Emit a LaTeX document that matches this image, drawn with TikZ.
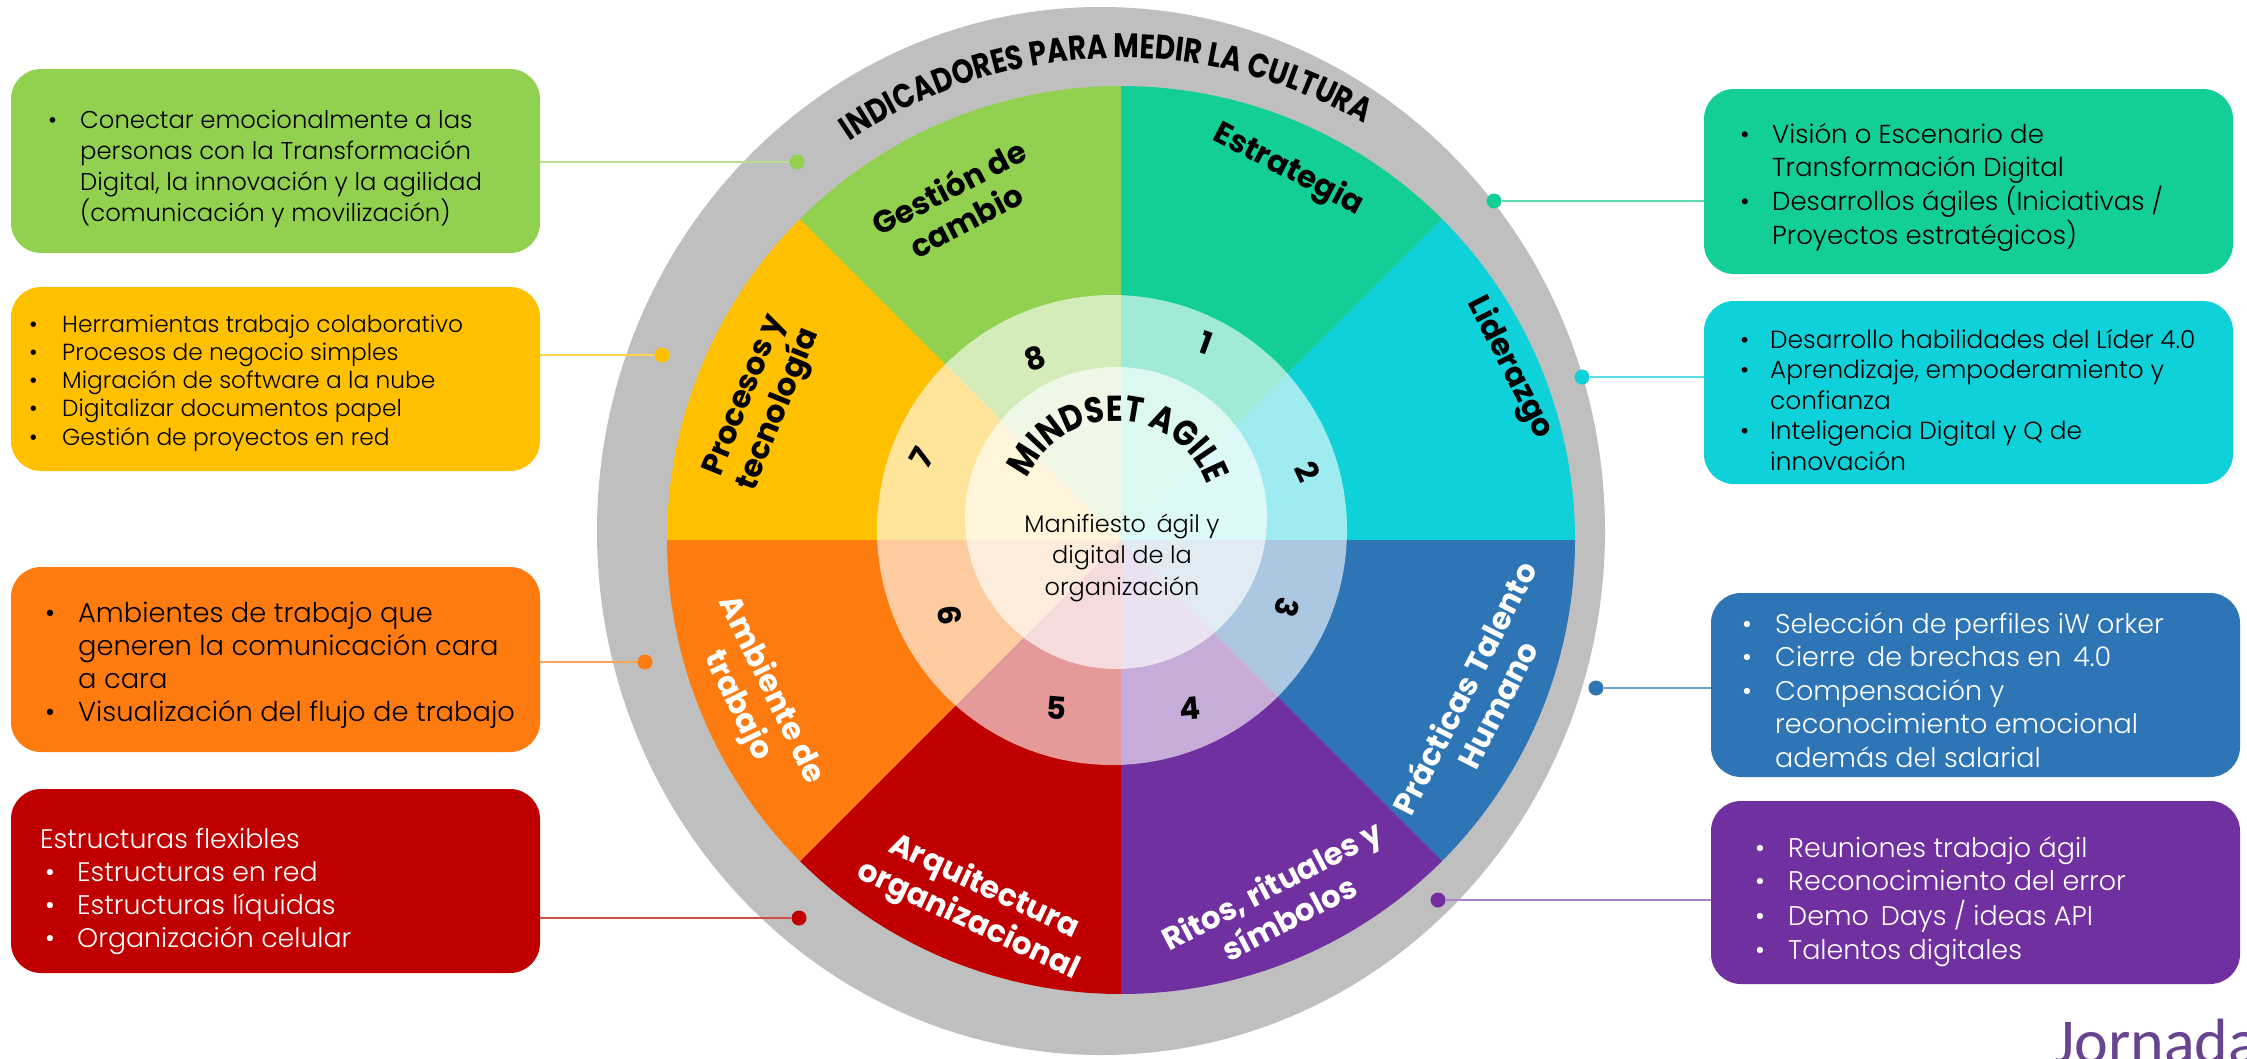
\documentclass[tikz,border=0pt]{standalone}
\usepackage{fontspec}
\setmainfont{Poppins}
\newfontfamily\condf[FakeStretch=0.82]{Poppins}
\newfontfamily\mindf[FakeStretch=0.86]{Poppins}
\IfFontExistsTF{Poppins Light}{\newfontfamily\boxf{Poppins Light}}{\newfontfamily\boxf{Poppins}}
\newfontfamily\jfont{Carlito}
\usetikzlibrary{decorations.text}
\definecolor{cGray}{HTML}{BFBFBF}
\definecolor{cGreen}{HTML}{92D050}
\definecolor{cTeal}{RGB}{19,207,151}
\definecolor{cCyan}{RGB}{14,209,217}
\definecolor{cBlue}{HTML}{2E75B6}
\definecolor{cPurple}{HTML}{7030A0}
\definecolor{cRed}{HTML}{C00000}
\definecolor{cOrange}{RGB}{254,123,16}
\definecolor{cYellow}{HTML}{FFC000}
\definecolor{cJorn}{RGB}{104,68,144}
\tikzset{
  infobox/.style={draw=none, rounded corners=30pt, inner sep=0pt, minimum width=529pt},
  boxtext/.style={inner sep=0pt, anchor=base west, font=\boxf},
  seglabel/.style={inner sep=0pt, align=center, font=\fontsize{31}{37}\selectfont\bfseries},
  numlabel/.style={inner sep=0pt, font=\fontsize{31}{31}\selectfont\bfseries},
  pin/.style={circle, inner sep=0pt, minimum size=15pt},
  link/.style={line width=2pt},
}
\begin{document}
\begin{tikzpicture}[x=1pt,y=1pt]
\useasboundingbox (0,0) rectangle (2247,-1058);
\clip (0,0) rectangle (2247,-1058);
\fill[white] (0,0) rectangle (2247,-1058);
% outer gray ring
\fill[cGray] (1101,-531) ellipse[x radius=504, y radius=524];
\coordinate (C) at (1121,-540);
\coordinate (I) at (1116,-518);
\foreach \a/\b/\c in {45/90/cTeal, 0/45/cCyan, -45/0/cBlue, -90/-45/cPurple, -135/-90/cRed, 180/225/cOrange, 135/180/cYellow, 90/135/cGreen}
  \fill[\c] (C) -- ++(\a:454) arc[start angle=\a, end angle=\b, radius=454] -- cycle;
\fill[white, opacity=0.6] (1112,-530) circle[radius=235];
\fill[white, opacity=0.65] (I) circle[radius=151];
% arc texts
\path[decorate, decoration={text along path, text align=center,
  text={|\condf\bfseries\fontsize{34}{34}\selectfont|INDICADORES{\ }PARA MEDIR LA CULTURA}}]
  ([shift={(150:482)}]C) arc[start angle=150, end angle=34, radius=482];
\path[decorate, decoration={text along path, text align=center,
  text={|\mindf\bfseries\fontsize{36}{36}\selectfont|MINDSET AGILE}}]
  ([shift={(178:97)}]I) arc[start angle=178, end angle=-2, radius=97];
\node[inner sep=0pt, anchor=base, font=\boxf\fontsize{24}{31.5}\selectfont] (manif) at (1122,-532)
  {\begin{tabular}[t]{@{}c@{}}Manifiesto \,ágil y\\digital de la\\organización\end{tabular}};
% numbers
\node[numlabel, rotate=-20] (n1) at (1206,-343) {1};
\node[numlabel, rotate=-65] (n2) at (1308,-472) {2};
\node[numlabel, rotate=-105] (n3) at (1287,-608) {3};
\node[numlabel, rotate=5] (n4) at (1190,-708) {4};
\node[numlabel, rotate=-5] (n5) at (1057,-708) {5};
\node[numlabel, rotate=-85] (n6) at (950,-615) {6};
\node[numlabel, rotate=60] (n7) at (922,-458) {7};
\node[numlabel, rotate=20] (n8) at (1035,-358) {8};
% segment labels
\node[seglabel, rotate=27.5] (lGes) at (957,-203) {Gestión de\\cambio};
\node[seglabel, rotate=-27.5] (lEst) at (1288,-170) {Estrategia};
\node[seglabel, rotate=-63] (lLid) at (1510,-368) {Liderazgo};
\node[seglabel, rotate=68] (lPro) at (763,-403) {Procesos y\\tecnología};
\node[seglabel, text=white, rotate=-64] (lAmb) at (754,-698) {Ambiente de\\trabajo};
\node[seglabel, text=white, rotate=63] (lPra) at (1480,-696) {Prácticas Talento\\Humano};
\node[seglabel, text=white, rotate=27.5] (lRit) at (1280,-901) {Ritos, rituales y\\símbolos};
\node[seglabel, text=white, rotate=-25] (lArq) at (976,-904) {Arquitectura\\organizacional};
% boxes
\node[infobox, fill=cGreen, minimum height=184pt] (bGreen) at (275.5,-161) {};
\node[infobox, fill=cYellow, minimum height=184pt] (bYellow) at (275.5,-379) {};
\node[infobox, fill=cOrange, minimum height=185pt] (bOrange) at (275.5,-659.5) {};
\node[infobox, fill=cRed, minimum height=184pt] (bRed) at (275.5,-881) {};
\node[infobox, fill=cTeal, minimum height=185pt] (bTeal) at (1968.5,-181.5) {};
\node[infobox, fill=cCyan, minimum height=183pt] (bCyan) at (1968.5,-392.5) {};
\node[infobox, fill=cBlue, minimum height=184pt] (bBlue) at (1975.5,-685) {};
\node[infobox, fill=cPurple, minimum height=183pt] (bPurple) at (1975.5,-892.5) {};
% box texts
\node[boxtext] (tGreen) at (48,-128) {\fontsize{24.3}{31}\selectfont\begin{tabular}[t]{@{}p{32pt}@{}l@{}}
 \textbullet & Conectar emocionalmente a las\\ & personas con la Transformación\\ & Digital, la innovación y la agilidad\\ & (comunicación y movilización)\end{tabular}};
\node[boxtext] (tYellow) at (29,-332) {\fontsize{23.3}{28.3}\selectfont\begin{tabular}[t]{@{}p{33pt}@{}l@{}}
 \textbullet & Herramientas trabajo colaborativo\\ \textbullet & Procesos de negocio simples\\ \textbullet & Migración de software a la nube\\ \textbullet & Digitalizar documentos papel\\ \textbullet & Gestión de proyectos en red\end{tabular}};
\node[boxtext] (tOrange) at (45,-622) {\fontsize{27.3}{33.3}\selectfont\begin{tabular}[t]{@{}p{33pt}@{}l@{}}
 \textbullet & Ambientes de trabajo que\\ & generen la comunicación cara\\ & a cara\\ \textbullet & Visualización del flujo de trabajo\end{tabular}};
\node[boxtext, text=white] (tRed) at (40,-848) {\fontsize{26.8}{33.3}\selectfont\begin{tabular}[t]{@{}p{37pt}@{}l@{}}
 \multicolumn{2}{@{}l@{}}{Estructuras flexibles}\\ \hspace*{5pt}\textbullet & Estructuras en red\\ \hspace*{5pt}\textbullet & Estructuras líquidas\\ \hspace*{5pt}\textbullet & Organización celular\end{tabular}};
\node[boxtext] (tTeal) at (1740,-143) {\fontsize{26}{33}\selectfont\begin{tabular}[t]{@{}p{32pt}@{}l@{}}
 \textbullet & Visión o Escenario de\\ & Transformación Digital\\ \textbullet & Desarrollos ágiles (Iniciativas /\\ & Proyectos estratégicos)\end{tabular}};
\node[boxtext] (tCyan) at (1740,-348) {\fontsize{24.8}{30.5}\selectfont\begin{tabular}[t]{@{}p{30pt}@{}l@{}}
 \textbullet & Desarrollo habilidades del Líder 4.0\\ \textbullet & Aprendizaje, empoderamiento y\\ & confianza\\ \textbullet & Inteligencia Digital y Q de\\ & innovación\end{tabular}};
\node[boxtext, text=white] (tBlue) at (1742,-633) {\fontsize{27}{33.5}\selectfont\begin{tabular}[t]{@{}p{33pt}@{}l@{}}
 \textbullet & Selección de perfiles iW orker\\ \textbullet & Cierre \,de brechas en \,4.0\\ \textbullet & Compensación y\\ & reconocimiento emocional\\ & además del salarial\end{tabular}};
\node[boxtext, text=white] (tPurple) at (1755,-857) {\fontsize{27}{33.5}\selectfont\begin{tabular}[t]{@{}p{33pt}@{}l@{}}
 \textbullet & Reuniones trabajo ágil\\ \textbullet & Reconocimiento del error\\ \textbullet & Demo \,Days / ideas API\\ \textbullet & Talentos digitales\end{tabular}};
% pins and links
\node[pin, fill=cGreen] (pGreen) at (797,-162) {};
\node[pin, fill=cYellow] (pYellow) at (662,-355) {};
\node[pin, fill=cOrange] (pOrange) at (645,-662) {};
\node[pin, fill=cRed] (pRed) at (799,-918) {};
\node[pin, fill=cTeal] (pTeal) at (1494,-201) {};
\node[pin, fill=cCyan] (pCyan) at (1582,-377) {};
\node[pin, fill=cBlue] (pBlue) at (1596,-688) {};
\node[pin, fill=cPurple] (pPurple) at (1438,-900) {};
\draw[link, cGreen!65!white] (bGreen.east |- pGreen) -- (pGreen);
\draw[link, cYellow!70!white] (bYellow.east |- pYellow) -- (pYellow);
\draw[link, cOrange!70!white] (bOrange.east |- pOrange) -- (pOrange);
\draw[link, cRed!70!white] (bRed.east |- pRed) -- (pRed);
\draw[link, cTeal!70!white] (pTeal) -- (bTeal.west |- pTeal);
\draw[link, cCyan!70!white] (pCyan) -- (bCyan.west |- pCyan);
\draw[link, cBlue!70!white] (pBlue) -- (bBlue.west |- pBlue);
\draw[link, cPurple!60!white] (pPurple) -- (bPurple.west |- pPurple);
% title fragment
\node[anchor=base west, inner sep=0pt, text=cJorn, font=\jfont\fontsize{64}{64}\selectfont] (title) at (2054,-1063) {Jornada};
\end{tikzpicture}
\end{document}
